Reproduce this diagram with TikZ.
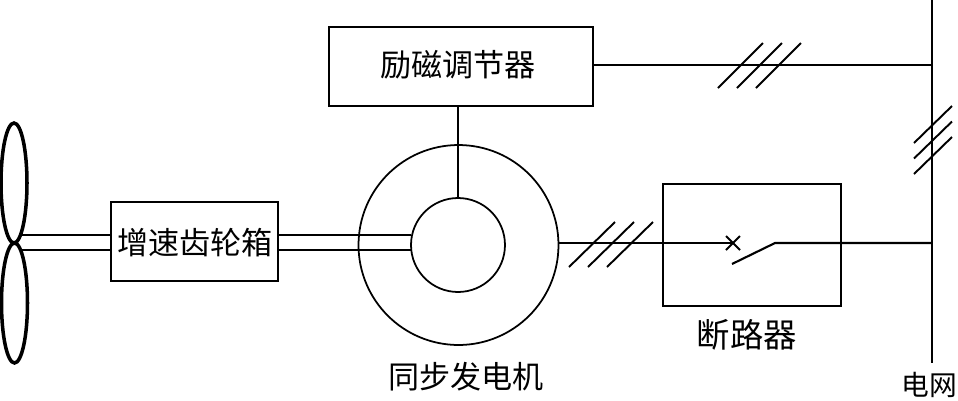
\documentclass[tikz,border=0pt]{standalone}
\usepackage{fontspec}
\newfontfamily\cjk{Noto Sans CJK SC}
\usetikzlibrary{shapes.geometric}

\begin{document}
\begin{tikzpicture}[
    x=0.02cm, y=-0.02cm,
    font=\cjk\fontsize{17.7pt}{20pt}\selectfont,
    % Styles
    box_node/.style={draw=black, line width=1.2pt, inner sep=0pt, outer sep=0pt},
    ring_node/.style={circle, draw=black, line width=1pt, inner sep=0pt, outer sep=0pt},
    blade_node/.style={ellipse, draw=black, line width=2pt, inner sep=0pt, outer sep=0pt, minimum width=0.52cm, minimum height=2.4cm},
    wire_line/.style={black, line width=1.2pt},
    tick_line/.style={black, line width=1.1pt},
    label_node/.style={inner sep=0pt}
]
    \useasboundingbox (0,0) rectangle (958,400);

    % ==========================================
    % 1. BLADES & BOXES
    % ==========================================
    \node[blade_node] (blade_top) at (14,183) {};
    \node[blade_node] (blade_bottom) at (14.5,303) {};

    \node[box_node, minimum width=3.34cm, minimum height=1.58cm] (gearbox) at (194.5,241.5) {};
    \node[box_node, minimum width=5.28cm, minimum height=1.58cm] (exciter) at (461,66.5) {};
    \node[box_node, minimum width=3.56cm, minimum height=2.44cm] (breaker) at (752,245) {};

    % ==========================================
    % 2. GENERATOR
    % ==========================================
    \node[ring_node, minimum size=4.0cm] (gen_outer) at (458.5,245) {};
    \node[ring_node, minimum size=1.88cm] (gen_inner) at (458,245) {};

    % ==========================================
    % 3. COORDINATES DEFINITION
    % ==========================================
    \coordinate (bus_top) at (932,0);
    \coordinate (bus_bottom) at (932,363);
    \coordinate (bus_exciter) at (932,65);
    \coordinate (bus_breaker) at (932,243);
    \coordinate (exciter_out) at (593,65);
    \coordinate (gen_out) at (558,243);
    \coordinate (contact_fixed) at (733,243);
    \coordinate (blade_pivot) at (775,243);
    \coordinate (blade_tip) at (732,264);
    \coordinate (shaft_a1) at (20,235);
    \coordinate (shaft_a2) at (111,235);
    \coordinate (shaft_b1) at (20,250);
    \coordinate (shaft_b2) at (111,250);
    \coordinate (shaft_c1) at (278,235);
    \coordinate (shaft_c2) at (411,235);
    \coordinate (shaft_d1) at (278,250);
    \coordinate (shaft_d2) at (411,250);

    % ==========================================
    % 4. SHAFTS & WIRES
    % ==========================================
    \draw[wire_line] (shaft_a1) -- (shaft_a2);
    \draw[wire_line] (shaft_b1) -- (shaft_b2);
    \draw[wire_line] (shaft_c1) -- (shaft_c2);
    \draw[wire_line] (shaft_d1) -- (shaft_d2);

    \draw[wire_line] (exciter.south -| gen_inner.north) -- (gen_inner.north);
    \draw[wire_line] (exciter_out) -- (bus_exciter);
    \draw[wire_line] (bus_top) -- (bus_bottom);

    % Breaker path
    \draw[wire_line] (gen_out) -- (contact_fixed);
    \draw[wire_line] (blade_tip) -- (blade_pivot) -- (bus_breaker);
    \draw[tick_line] (726,236) -- (740,250);
    \draw[tick_line] (726,250) -- (740,236);

    % ==========================================
    % 5. THREE-PHASE TICKS
    % ==========================================
    \foreach \d in {0,19,38} {
        \draw[tick_line] (569+\d,267) -- (615+\d,222);
        \draw[tick_line] (718+\d,88) -- (763+\d,43);
    }
    \foreach \d in {0,15.5,31} {
        \draw[tick_line] (914,143+\d) -- (952,106+\d);
    }

    % ==========================================
    % 6. LABELS
    % ==========================================
    \node[label_node] (exciter_label) at (458,65) {励磁调节器};
    \node[label_node] (gearbox_label) at (195,243) {增速齿轮箱};
    \node[label_node] (gen_label) at (466,377) {同步发电机};
    \node[label_node, font=\cjk\fontsize{19pt}{20pt}\selectfont] (breaker_label) at (747,335) {断路器};
    \node[label_node, font=\cjk\fontsize{15.8pt}{20pt}\selectfont] (grid_label) at (929.5,385) {电网};

\end{tikzpicture}
\end{document}
